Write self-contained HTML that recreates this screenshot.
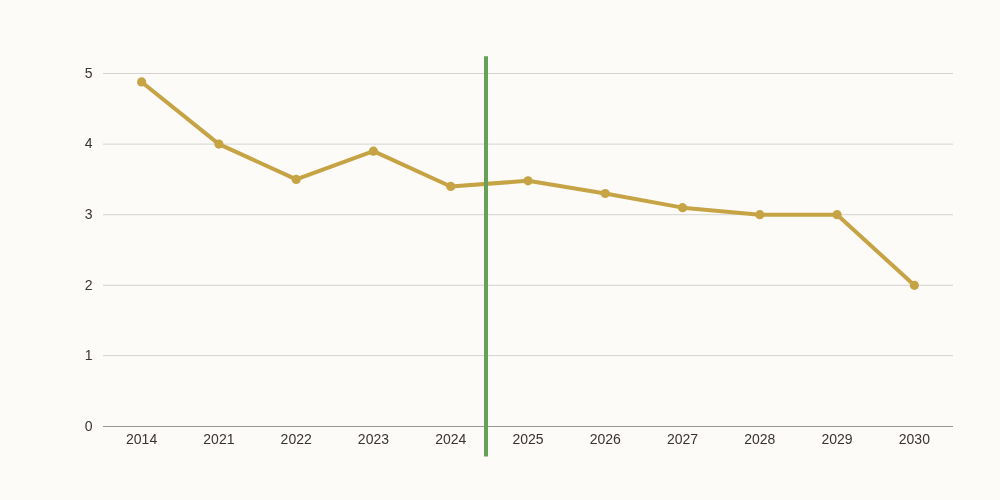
<!DOCTYPE html>
<html><head><meta charset="utf-8"><style>
html,body{margin:0;padding:0;background:#fcfbf8;}
svg{display:block;will-change:transform;}
text{font-family:"Liberation Sans",sans-serif;font-size:14px;fill:#3a3331;}
</style></head><body>
<svg width="1000" height="500" viewBox="0 0 1000 500">

<g stroke="#d6d3cf" stroke-width="1">
<line x1="103" x2="953" y1="355.6" y2="355.6"/>
<line x1="103" x2="953" y1="285.3" y2="285.3"/>
<line x1="103" x2="953" y1="214.7" y2="214.7"/>
<line x1="103" x2="953" y1="144.1" y2="144.1"/>
<line x1="103" x2="953" y1="73.5" y2="73.5"/>
</g>
<line x1="103" x2="953" y1="426.5" y2="426.5" stroke="#9b9592" stroke-width="1"/>
<g text-anchor="end">
<text x="92.6" y="430.8">0</text>
<text x="92.6" y="360.2">1</text>
<text x="92.6" y="289.6">2</text>
<text x="92.6" y="219.0">3</text>
<text x="92.6" y="148.4">4</text>
<text x="92.6" y="77.8">5</text>
</g>
<g text-anchor="middle">
<text x="141.64" y="444">2014</text>
<text x="218.91" y="444">2021</text>
<text x="296.18" y="444">2022</text>
<text x="373.45" y="444">2023</text>
<text x="450.73" y="444">2024</text>
<text x="528.00" y="444">2025</text>
<text x="605.27" y="444">2026</text>
<text x="682.55" y="444">2027</text>
<text x="759.82" y="444">2028</text>
<text x="837.09" y="444">2029</text>
<text x="914.36" y="444">2030</text>
</g>
<path d="M141.64,81.97 L218.91,144.10 L296.18,179.40 L373.45,151.16 L450.73,186.46 L528.00,180.81 L605.27,193.52 L682.55,207.64 L759.82,214.70 L837.09,214.70 L914.36,285.30" fill="none" stroke="#c6a445" stroke-width="4" stroke-linejoin="round"/>
<g fill="#c6a445">
<circle cx="141.64" cy="81.97" r="4.6"/>
<circle cx="218.91" cy="144.10" r="4.6"/>
<circle cx="296.18" cy="179.40" r="4.6"/>
<circle cx="373.45" cy="151.16" r="4.6"/>
<circle cx="450.73" cy="186.46" r="4.6"/>
<circle cx="528.00" cy="180.81" r="4.6"/>
<circle cx="605.27" cy="193.52" r="4.6"/>
<circle cx="682.55" cy="207.64" r="4.6"/>
<circle cx="759.82" cy="214.70" r="4.6"/>
<circle cx="837.09" cy="214.70" r="4.6"/>
<circle cx="914.36" cy="285.30" r="4.6"/>
</g>
<line x1="486" x2="486" y1="56.3" y2="456.4" stroke="#65a157" stroke-width="4"/>
</svg>
</body></html>
